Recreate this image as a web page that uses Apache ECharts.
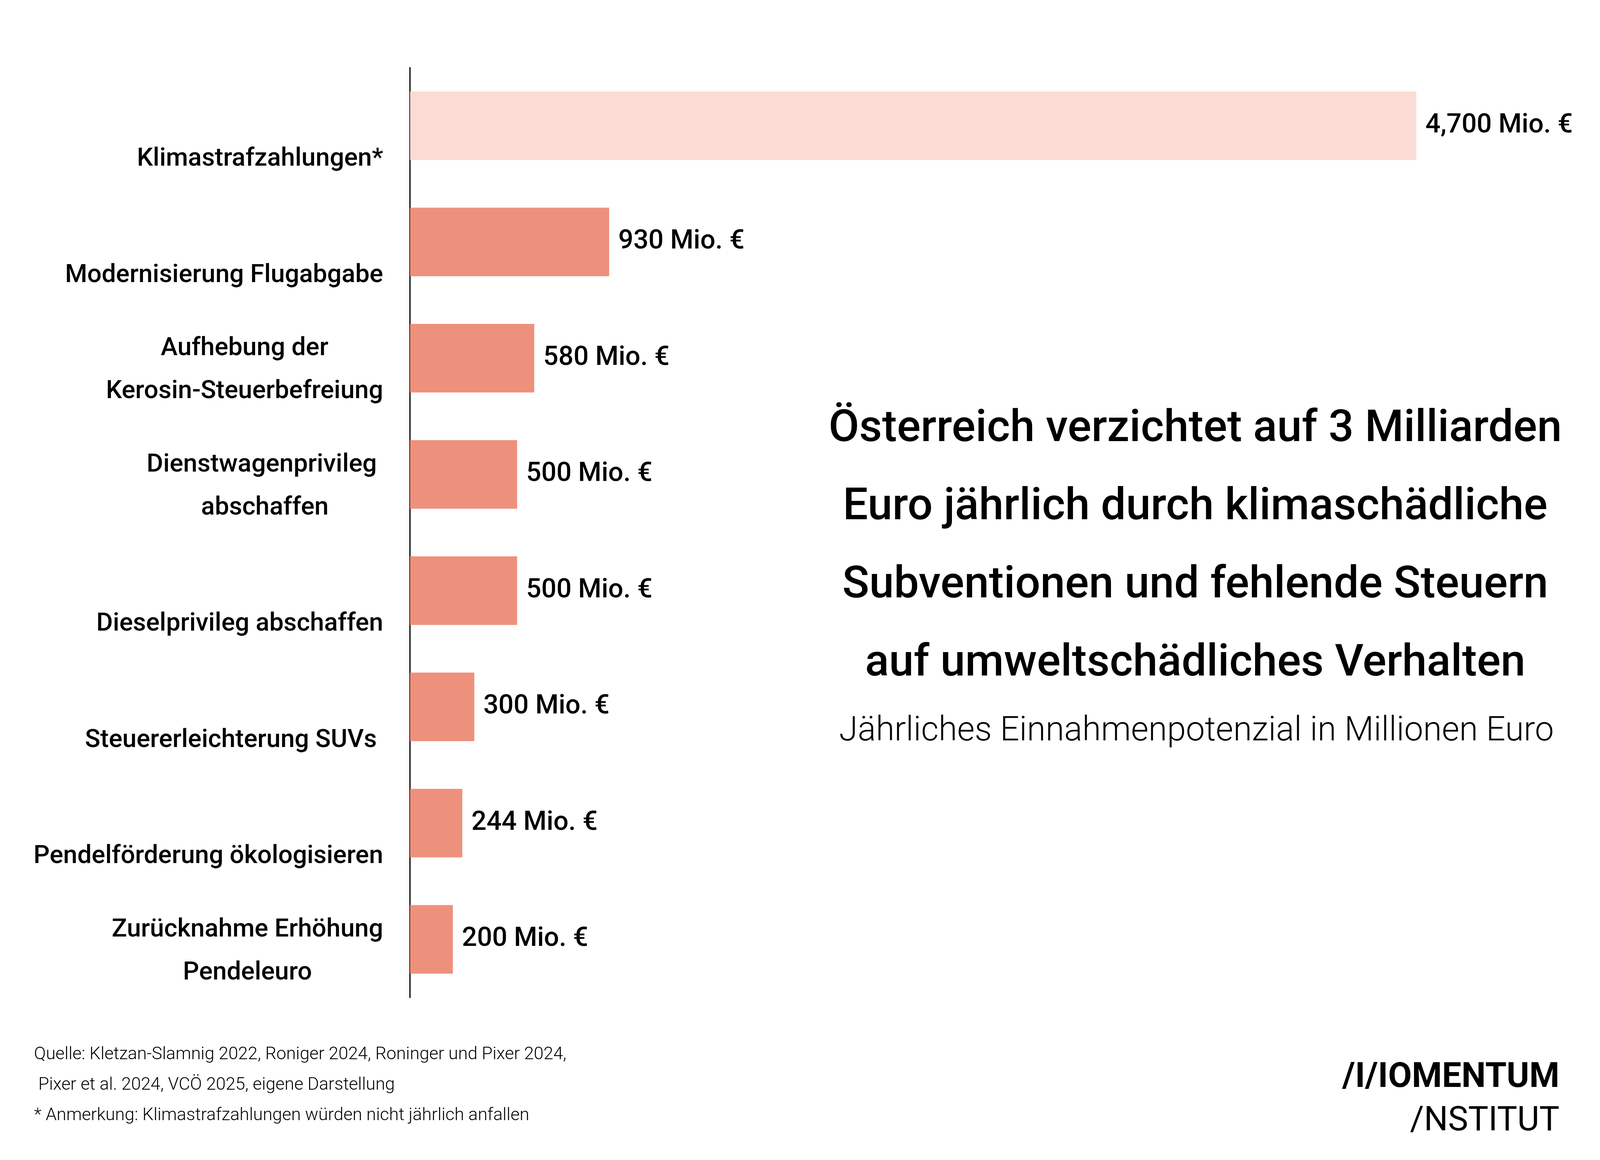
<!DOCTYPE html>
<html>
<head>
<meta charset="utf-8">
<script src="https://cdn.jsdelivr.net/npm/echarts@6/dist/echarts.min.js"></script>
<style>
html,body{margin:0;padding:0;background:#fff;overflow:hidden;}
#chart{width:100vw;height:100vh;}
</style>
</head>
<body>
<div id="chart"></div>
<script>
// ---- data ----
const categories = [
  'Klimastrafzahlungen*',
  'Modernisierung Flugabgabe',
  'Aufhebung der\nKerosin-Steuerbefreiung',
  'Dienstwagenprivileg \nabschaffen',
  'Dieselprivileg abschaffen',
  'Steuererleichterung SUVs ',
  'Pendelförderung ökologisieren',
  'Zurücknahme Erhöhung\nPendeleuro'
];
const values = [4700, 930, 580, 500, 500, 300, 244, 200];
const highlightIndex = 0; // lighter bar (not annual)
const unitSuffix = ' Mio. €';
const titleLines = [
  'Österreich verzichtet auf 3 Milliarden',
  'Euro jährlich durch klimaschädliche',
  'Subventionen und fehlende Steuern',
  'auf umweltschädliches Verhalten'
];
const subtitle = 'Jährliches Einnahmenpotenzial in Millionen Euro';
const footerLines = [
  'Quelle: Kletzan-Slamnig 2022, Roniger 2024, Roninger und Pixer 2024,',
  ' Pixer et al. 2024, VCÖ 2025, eigene Darstellung',
  '* Anmerkung: Klimastrafzahlungen würden nicht jährlich anfallen'
];
const logoLine1 = '/I/IOMENTUM';
const logoLine2 = '/NSTITUT';

// ---- chart ----
const FONT = 'Roboto, "Noto Sans", sans-serif';
const el = document.getElementById('chart');
const chart = echarts.init(el, null, {renderer: 'canvas'});
const W = el.clientWidth || window.innerWidth;
const H = el.clientHeight || window.innerHeight;
// layout designed on a 5291 x 2969 canvas; scale each axis to the real viewport
const sx = W / 5291;
const sy = H / 2969;
const px = v => v * sx;   // horizontal sizes and font sizes
const py = v => v * sy;   // vertical positions

const barColor = '#EE917C';
const lightColor = '#FADCD5';

const seriesData = values.map((v, i) => ({
  value: v,
  itemStyle: {color: i === highlightIndex ? lightColor : barColor}
}));

function fmtNum(v) {
  return String(v).replace(/\B(?=(\d{3})+(?!\d))/g, ',');
}

const option = {
  backgroundColor: '#ffffff',
  animation: false,
  title: [
    {
      text: titleLines.join('\n'),
      left: px(3946),
      top: py(996),
      textAlign: 'center',
      textStyle: {
        fontFamily: FONT,
        fontSize: px(147),
        fontWeight: 500,
        lineHeight: py(200),
        color: '#000'
      }
    },
    {
      text: subtitle,
      left: px(3950),
      top: py(1812),
      textAlign: 'center',
      textStyle: {
        fontFamily: FONT,
        fontSize: px(112),
        fontWeight: 300,
        lineHeight: py(112),
        color: '#000'
      }
    },
    {
      text: footerLines.join('\n'),
      left: px(106),
      top: py(2656),
      textStyle: {
        fontFamily: FONT,
        fontSize: px(58),
        fontWeight: 300,
        lineHeight: py(78),
        color: '#000'
      }
    }
  ],
  graphic: [
    {
      type: 'text',
      x: px(5157),
      y: py(2760),
      style: {
        text: logoLine1,
        align: 'right',
        verticalAlign: 'middle',
        fontFamily: FONT,
        fontSize: px(114),
        fontWeight: 700,
        fill: '#000'
      }
    },
    {
      type: 'text',
      x: px(5157),
      y: py(2871),
      style: {
        text: logoLine2,
        align: 'right',
        verticalAlign: 'middle',
        fontFamily: FONT,
        fontSize: px(112),
        fontWeight: 400,
        fill: '#000'
      }
    }
  ],
  grid: {
    left: px(1356),
    top: py(173),
    width: px(3540),
    height: py(2380),
    containLabel: false
  },
  xAxis: {
    type: 'value',
    min: 0,
    max: 5000,
    show: false
  },
  yAxis: {
    type: 'category',
    data: categories,
    inverse: true,
    axisLine: {show: true, lineStyle: {color: '#000', width: Math.max(1, px(4))}},
    axisTick: {show: false},
    splitLine: {show: false},
    axisLabel: {
      margin: px(89),
      align: 'right',
      verticalAlign: 'middle',
      padding: [py(62), 0, 0, 0],
      fontFamily: FONT,
      fontSize: px(84),
      fontWeight: 500,
      lineHeight: py(110),
      color: '#000',
      formatter: function (val) {
        let lines = val.split('\n');
        if (lines.length === 1) lines = [' ', lines[0]];
        return lines.map(l => '{c|' + l + '}').join('\n');
      },
      rich: {
        c: {
          align: 'center',
          fontFamily: FONT,
          fontSize: px(84),
          fontWeight: 500,
          lineHeight: py(110),
          color: '#000'
        }
      }
    }
  },
  series: [
    {
      type: 'bar',
      data: seriesData,
      barCategoryGap: '41%',
      label: {
        show: true,
        position: 'right',
        distance: px(30),
        fontFamily: FONT,
        fontSize: px(88),
        fontWeight: 500,
        color: '#000',
        formatter: q => fmtNum(q.value) + unitSuffix
      }
    }
  ]
};
chart.setOption(option);
</script>
</body>
</html>
